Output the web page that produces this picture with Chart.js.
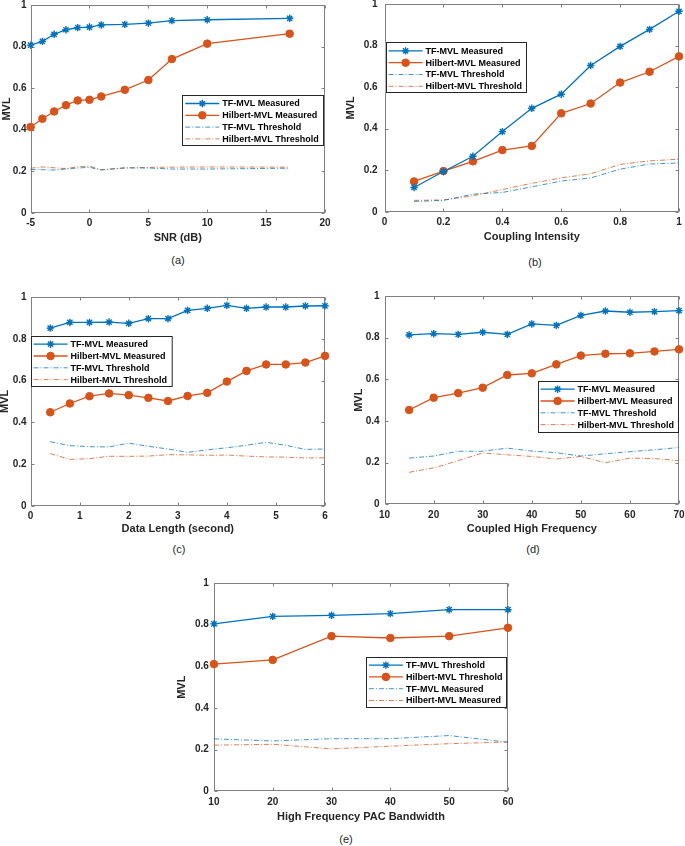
<!DOCTYPE html>
<html>
<head>
<meta charset="utf-8">
<title>MVL comparison</title>
<script src="https://cdn.jsdelivr.net/npm/chart.js@4.4.1/dist/chart.umd.min.js"></script>
<style>
  body { margin: 0; width: 685px; height: 846px; position: relative; overflow: hidden; background: #fff;
         font-family: "Liberation Sans", Arial, sans-serif; }
  canvas { position: absolute; }
  .cap { position: absolute; font-size: 11px; color: #262626; transform: translate(-50%, -50%); }
</style>
</head>
<body>
<canvas id="chartA"></canvas>
<canvas id="chartB"></canvas>
<canvas id="chartC"></canvas>
<canvas id="chartD"></canvas>
<canvas id="chartE"></canvas>
<div class="cap" style="left:178px;top:260px">(a)</div>
<div class="cap" style="left:535px;top:262px">(b)</div>
<div class="cap" style="left:179px;top:549px">(c)</div>
<div class="cap" style="left:533px;top:549px">(d)</div>
<div class="cap" style="left:346px;top:839px">(e)</div>
<script>
// ---------------------------------------------------------------------------
// Data
// ---------------------------------------------------------------------------
const yTicks = [0, 0.2, 0.4, 0.6, 0.8, 1];

// (a) SNR
const snrX = [-5, -4, -3, -2, -1, 0, 1, 3, 5, 7, 10, 17];
const snrTicks = [-5, 0, 5, 10, 15, 20];
const snrTfMeasured = [0.807, 0.825, 0.859, 0.881, 0.891, 0.894, 0.904, 0.907, 0.913, 0.925, 0.929, 0.936];
const snrHbMeasured = [0.413, 0.453, 0.488, 0.518, 0.541, 0.544, 0.560, 0.592, 0.639, 0.740, 0.814, 0.862];
const snrTfThreshold = [0.209, 0.208, 0.206, 0.211, 0.216, 0.219, 0.207, 0.216, 0.216, 0.211, 0.211, 0.215];
const snrHbThreshold = [0.215, 0.221, 0.217, 0.213, 0.222, 0.225, 0.207, 0.217, 0.219, 0.220, 0.221, 0.220];

// (b) Coupling intensity
const ciX = [0.1, 0.2, 0.3, 0.4, 0.5, 0.6, 0.7, 0.8, 0.9, 1.0];
const ciTicks = [0, 0.2, 0.4, 0.6, 0.8, 1];
const ciTfMeasured = [0.117, 0.194, 0.267, 0.386, 0.498, 0.566, 0.704, 0.796, 0.878, 0.965];
const ciHbMeasured = [0.146, 0.196, 0.243, 0.297, 0.317, 0.474, 0.521, 0.622, 0.674, 0.748];
const ciTfThreshold = [0.050, 0.055, 0.085, 0.093, 0.120, 0.148, 0.163, 0.205, 0.230, 0.235];
const ciHbThreshold = [0.055, 0.057, 0.077, 0.107, 0.137, 0.163, 0.183, 0.228, 0.245, 0.253];

// (c) Data length
const dlX = [0.4, 0.8, 1.2, 1.6, 2.0, 2.4, 2.8, 3.2, 3.6, 4.0, 4.4, 4.8, 5.2, 5.6, 6.0];
const dlTicks = [0, 1, 2, 3, 4, 5, 6];
const dlTfMeasured = [0.851, 0.878, 0.878, 0.880, 0.874, 0.896, 0.896, 0.936, 0.946, 0.960, 0.946, 0.952, 0.952, 0.957, 0.958];
const dlHbMeasured = [0.448, 0.490, 0.525, 0.538, 0.530, 0.517, 0.502, 0.526, 0.541, 0.595, 0.646, 0.677, 0.677, 0.686, 0.718];
const dlTfThreshold = [0.307, 0.288, 0.283, 0.282, 0.300, 0.285, 0.272, 0.256, 0.268, 0.278, 0.290, 0.304, 0.290, 0.270, 0.272];
const dlHbThreshold = [0.250, 0.222, 0.226, 0.237, 0.237, 0.238, 0.245, 0.244, 0.242, 0.243, 0.238, 0.234, 0.233, 0.229, 0.230];

// (d) Coupled high frequency
const hfX = [15, 20, 25, 30, 35, 40, 45, 50, 55, 60, 65, 70];
const hfTicks = [10, 20, 30, 40, 50, 60, 70];
const hfTfMeasured = [0.813, 0.819, 0.816, 0.826, 0.816, 0.866, 0.859, 0.907, 0.928, 0.922, 0.925, 0.930];
const hfHbMeasured = [0.453, 0.512, 0.534, 0.560, 0.621, 0.629, 0.672, 0.714, 0.723, 0.725, 0.734, 0.744];
const hfTfThreshold = [0.222, 0.232, 0.255, 0.255, 0.270, 0.256, 0.248, 0.232, 0.243, 0.253, 0.262, 0.273];
const hfHbThreshold = [0.154, 0.175, 0.210, 0.247, 0.238, 0.230, 0.218, 0.230, 0.200, 0.222, 0.220, 0.210];

// (e) PAC bandwidth
const bwX = [10, 20, 30, 40, 50, 60];
const bwTicks = [10, 20, 30, 40, 50, 60];
const bwTfSolid = [0.804, 0.840, 0.845, 0.853, 0.872, 0.872];
const bwHbSolid = [0.611, 0.631, 0.745, 0.736, 0.745, 0.785];
const bwTfDash = [0.252, 0.242, 0.253, 0.253, 0.268, 0.236];
const bwHbDash = [0.222, 0.226, 0.204, 0.217, 0.229, 0.237];

const labelsMain = ["TF-MVL Measured", "Hilbert-MVL Measured", "TF-MVL Threshold", "Hilbert-MVL Threshold"];
const labelsE = ["TF-MVL Threshold", "Hilbert-MVL Threshold", "TF-MVL Measured", "Hilbert-MVL Measured"];

// ---------------------------------------------------------------------------
// Style
// ---------------------------------------------------------------------------
const BLUE = "#0072BD";
const ORANGE = "#D95319";
const BLUE_DASH = "rgba(0,114,189,0.75)";
const ORANGE_DASH = "rgba(217,83,25,0.75)";
const INK = "#262626";
Chart.defaults.font.family = "'Liberation Sans', Arial, sans-serif";
Chart.defaults.color = INK;

// box round the plot area with inward ticks, MATLAB style
const axesBox = {
  id: "axesBox",
  beforeDatasetsDraw(chart) {
    const { ctx, chartArea: a, scales: { x, y } } = chart;
    const L = Math.round(a.left) + 0.5, R = Math.round(a.right) - 0.5;
    const T = Math.round(a.top) + 0.5, B = Math.round(a.bottom) - 0.5;
    ctx.save();
    ctx.strokeStyle = "#808080";
    ctx.lineWidth = 1;
    ctx.strokeRect(L, T, R - L, B - T);
    ctx.beginPath();
    x.ticks.forEach((t) => {
      const px = Math.round(x.getPixelForValue(t.value)) + 0.5;
      ctx.moveTo(px, B); ctx.lineTo(px, B - 3);
      ctx.moveTo(px, T); ctx.lineTo(px, T + 3);
    });
    y.ticks.forEach((t) => {
      const py = Math.round(y.getPixelForValue(t.value)) + 0.5;
      ctx.moveTo(L, py); ctx.lineTo(L + 3, py);
      ctx.moveTo(R, py); ctx.lineTo(R - 3, py);
    });
    ctx.stroke();
    ctx.restore();
  },
};

// legend drawn in a box inside the plot (position given in page px)
const boxLegend = {
  id: "boxLegend",
  afterDraw(chart, args, opts) {
    if (!opts || opts.left === undefined) return;
    const { ctx } = chart;
    const left = opts.left - opts.ox, top = opts.top - opts.oy;
    ctx.save();
    ctx.fillStyle = "#fff";
    ctx.fillRect(left, top, opts.width, opts.height);
    ctx.strokeStyle = INK;
    ctx.lineWidth = 1;
    ctx.strokeRect(Math.round(left) + 0.5, Math.round(top) + 0.5, opts.width, opts.height);
    chart.data.datasets.forEach((ds, i) => {
      const cy = top + 8.5 + i * 11.8;
      ctx.strokeStyle = ds.borderColor;
      ctx.lineWidth = ds.borderWidth;
      ctx.setLineDash(ds.borderDash || []);
      ctx.beginPath();
      ctx.moveTo(left + 3, cy);
      ctx.lineTo(left + 37, cy);
      ctx.stroke();
      ctx.setLineDash([]);
      if (ds.pointRadius > 0) {
        ctx.fillStyle = ds.pointBackgroundColor;
        ctx.strokeStyle = ds.pointBorderColor;
        ctx.lineWidth = ds.pointBorderWidth;
        Chart.helpers.drawPoint(ctx, { pointStyle: ds.pointStyle, radius: ds.pointRadius, borderWidth: ds.pointBorderWidth, rotation: 0 }, left + 20, cy);
      }
      ctx.fillStyle = "#000";
      ctx.font = "bold 9px 'Liberation Sans', Arial, sans-serif";
      ctx.textBaseline = "middle";
      ctx.fillText(ds.label, left + 40, cy + 0.5);
    });
    ctx.restore();
  },
};

function starSet(label, xs, ys) {
  return {
    label, data: xs.map((x, i) => ({ x, y: ys[i] })),
    borderColor: BLUE, borderWidth: 1.3,
    pointStyle: "star", pointRadius: 3.7, pointBorderWidth: 1.4,
    pointBackgroundColor: BLUE, pointBorderColor: BLUE, clip: false,
  };
}
function circleSet(label, xs, ys) {
  return {
    label, data: xs.map((x, i) => ({ x, y: ys[i] })),
    borderColor: ORANGE, borderWidth: 1.3,
    pointStyle: "circle", pointRadius: 3.8, pointBorderWidth: 1,
    pointBackgroundColor: ORANGE, pointBorderColor: ORANGE, clip: false,
  };
}
function dashSet(label, color, xs, ys) {
  return {
    label, data: xs.map((x, i) => ({ x, y: ys[i] })),
    borderColor: color, borderWidth: 1, borderDash: [5, 2, 1, 2],
    pointRadius: 0, pointBorderWidth: 0, clip: false,
  };
}

const fmt = (v) => String(Math.round(v * 100) / 100);

// p.l/t/r/b: axes area in page px; yOff: MVL title centre left of axis; gap: y tick padding
function makePanel(id, p) {
  const yAxisW = p.yOff + 6.6;
  const xAxisH = p.xOff + 6.6;
  const padTop = 8, padRight = 10;
  const canvas = document.getElementById(id);
  const w = Math.round(yAxisW + (p.r - p.l) + padRight);
  const h = Math.round(padTop + (p.b - p.t) + xAxisH);
  const cx = p.l - yAxisW, cy = p.t - padTop;
  canvas.width = w;
  canvas.height = h;
  canvas.style.left = cx + "px";
  canvas.style.top = cy + "px";
  const legend = Object.assign({ ox: cx, oy: cy }, p.legend);

  return new Chart(canvas, {
    type: "line",
    data: { datasets: p.datasets },
    options: {
      responsive: false,
      animation: false,
      devicePixelRatio: 1,
      layout: { padding: { left: 0, top: padTop, right: padRight, bottom: 0 } },
      plugins: {
        legend: { display: false },
        tooltip: { enabled: false },
        boxLegend: legend,
      },
      scales: {
        x: {
          type: "linear", min: p.xMin, max: p.xMax,
          grid: { display: false, drawTicks: false },
          border: { display: false },
          afterBuildTicks: (s) => { s.ticks = p.xTicks.map((v) => ({ value: v })); },
          afterFit: (s) => { s.height = xAxisH; s.paddingLeft = 0; s.paddingRight = 0; },
          ticks: { padding: 4.5, maxRotation: 0, autoSkip: false, callback: fmt,
                   font: { size: 10, weight: "bold" }, color: INK },
          title: { display: true, text: p.xTitle, padding: 0,
                   font: { size: 11, weight: "bold" }, color: INK },
        },
        y: {
          min: 0, max: 1,
          grid: { display: false, drawTicks: false },
          border: { display: false },
          afterBuildTicks: (s) => { s.ticks = yTicks.map((v) => ({ value: v })); },
          afterFit: (s) => { s.width = yAxisW; s.paddingTop = 0; s.paddingBottom = 0; },
          ticks: { padding: p.gap, callback: fmt, font: { size: 10, weight: "bold" }, color: INK },
          title: { display: true, text: "MVL", padding: 0,
                   font: { size: 11, weight: "bold" }, color: INK },
        },
      },
    },
    plugins: [axesBox, boxLegend],
  });
}

makePanel("chartA", {
  l: 31, t: 5, r: 325, b: 212.7, yOff: 24, gap: 4, xOff: 25.5,
  xMin: -5, xMax: 20, xTicks: snrTicks, xTitle: "SNR (dB)",
  legend: { left: 182.7, top: 95, width: 141, height: 50 },
  datasets: [
    starSet(labelsMain[0], snrX, snrTfMeasured),
    circleSet(labelsMain[1], snrX, snrHbMeasured),
    dashSet(labelsMain[2], BLUE_DASH, snrX, snrTfThreshold),
    dashSet(labelsMain[3], ORANGE_DASH, snrX, snrHbThreshold),
  ],
});

makePanel("chartB", {
  l: 384.3, t: 4.3, r: 679, b: 211.7, yOff: 34, gap: 7, xOff: 25.6,
  xMin: 0, xMax: 1, xTicks: ciTicks, xTitle: "Coupling Intensity",
  legend: { left: 385.3, top: 42.7, width: 140, height: 50 },
  datasets: [
    starSet(labelsMain[0], ciX, ciTfMeasured),
    circleSet(labelsMain[1], ciX, ciHbMeasured),
    dashSet(labelsMain[2], BLUE_DASH, ciX, ciTfThreshold),
    dashSet(labelsMain[3], ORANGE_DASH, ciX, ciHbThreshold),
  ],
});

makePanel("chartC", {
  l: 31, t: 297.3, r: 325, b: 505.7, yOff: 26, gap: 4, xOff: 23.6,
  xMin: 0, xMax: 6, xTicks: dlTicks, xTitle: "Data Length (second)",
  legend: { left: 31, top: 336, width: 140.7, height: 50 },
  datasets: [
    starSet(labelsMain[0], dlX, dlTfMeasured),
    circleSet(labelsMain[1], dlX, dlHbMeasured),
    dashSet(labelsMain[2], BLUE_DASH, dlX, dlTfThreshold),
    dashSet(labelsMain[3], ORANGE_DASH, dlX, dlHbThreshold),
  ],
});

makePanel("chartD", {
  l: 384.3, t: 296, r: 678.7, b: 504.3, yOff: 26, gap: 5, xOff: 25,
  xMin: 10, xMax: 70, xTicks: hfTicks, xTitle: "Coupled High Frequency",
  legend: { left: 537.3, top: 380.7, width: 140, height: 51 },
  datasets: [
    starSet(labelsMain[0], hfX, hfTfMeasured),
    circleSet(labelsMain[1], hfX, hfHbMeasured),
    dashSet(labelsMain[2], BLUE_DASH, hfX, hfTfThreshold),
    dashSet(labelsMain[3], ORANGE_DASH, hfX, hfHbThreshold),
  ],
});

makePanel("chartE", {
  l: 214, t: 582.7, r: 507.7, b: 790.7, yOff: 32.3, gap: 5, xOff: 26,
  xMin: 10, xMax: 60, xTicks: bwTicks, xTitle: "High Frequency PAC Bandwidth",
  legend: { left: 366, top: 656.3, width: 140, height: 50 },
  datasets: [
    starSet(labelsE[0], bwX, bwTfSolid),
    circleSet(labelsE[1], bwX, bwHbSolid),
    dashSet(labelsE[2], BLUE_DASH, bwX, bwTfDash),
    dashSet(labelsE[3], ORANGE_DASH, bwX, bwHbDash),
  ],
});
</script>
</body>
</html>
